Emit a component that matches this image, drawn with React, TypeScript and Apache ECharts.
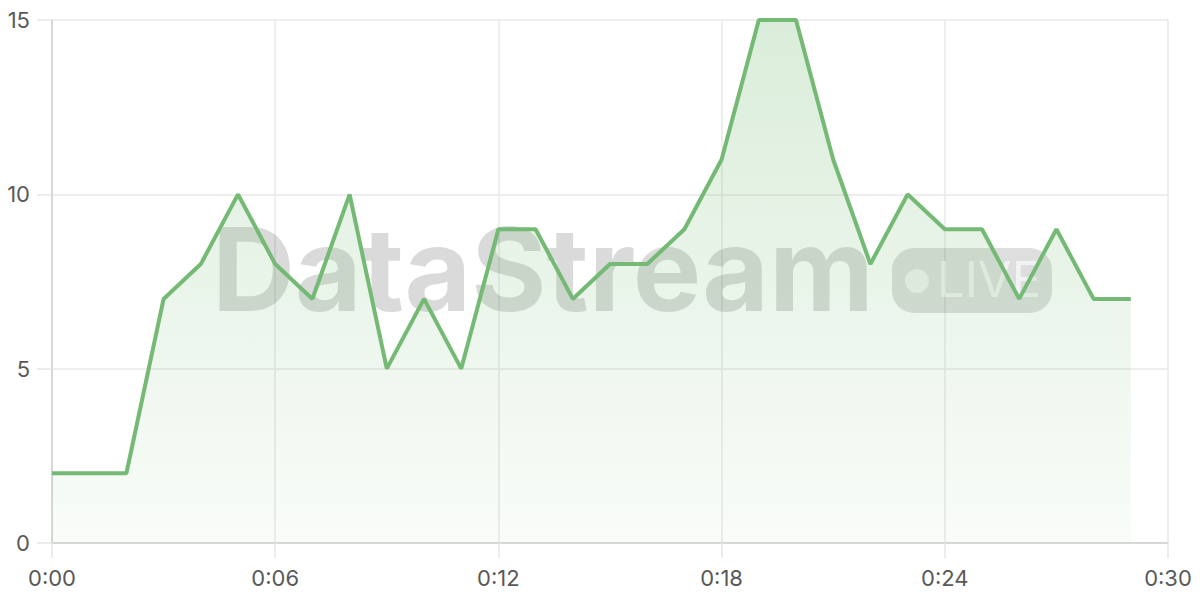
import React, { useEffect, useRef } from "react";
import * as echarts from "echarts";

const values = [2, 2, 2, 7, 8, 10, 8, 7, 10, 5, 7, 5, 9, 9, 7, 8, 8, 9, 11, 15, 15, 11, 8, 10, 9, 9, 7, 9, 7, 7];
const xMin = 0;
const xMax = 30;
const xStep = 6;
const yMin = 0;
const yMax = 15;
const yStep = 5;

const fmtX = (v: number) => "0:" + String(Math.round(v)).padStart(2, "0");

export default function App() {
  const ref = useRef<HTMLDivElement>(null);
  useEffect(() => {
    if (!ref.current) return;
    const chart = echarts.init(ref.current, undefined, { renderer: "svg" });
    const font = "Inter, 'Noto Sans', sans-serif";
    chart.setOption({
      animation: false,
      backgroundColor: "#ffffff",
      textStyle: { fontFamily: font },
      grid: { left: 52, right: 32, top: 20, bottom: 57, containLabel: false },
      xAxis: {
        type: "value",
        min: xMin,
        max: xMax,
        interval: xStep,
        axisLine: { show: true, lineStyle: { color: "#cfcfcf", width: 1.5 } },
        axisTick: { show: true, length: 15, lineStyle: { color: "#e6e6e6", width: 1.5 } },
        splitLine: { show: true, lineStyle: { color: "#e8e8e8", width: 1.5 } },
        axisLabel: { color: "#595959", fontSize: 22, margin: 24, formatter: fmtX, fontFamily: font },
      },
      yAxis: {
        type: "value",
        min: yMin,
        max: yMax,
        interval: yStep,
        axisLine: { show: true, lineStyle: { color: "#cfcfcf", width: 1.5 } },
        axisTick: { show: true, length: 15, lineStyle: { color: "#e6e6e6", width: 1.5 } },
        splitLine: { show: true, lineStyle: { color: "#e8e8e8", width: 1.5 } },
        axisLabel: { color: "#595959", fontSize: 22, margin: 22, fontFamily: font },
      },
      graphic: {
        elements: [
          {
            type: "text",
            z: 1,
            silent: true,
            style: {
              x: 212,
              y: 212,
              text: "DataStream",
              font: "bold 115px " + font,
              fill: "rgba(0,0,0,0.145)",
              verticalAlign: "top",
              align: "left",
            },
          },
          {
            type: "rect",
            z: 1,
            silent: true,
            shape: { x: 892, y: 248, width: 160, height: 65, r: 22 },
            style: { fill: "rgba(0,0,0,0.13)" },
          },
          {
            type: "circle",
            z: 1,
            silent: true,
            shape: { cx: 917, cy: 281, r: 12 },
            style: { fill: "rgba(255,255,255,0.6)" },
          },
          {
            type: "text",
            z: 1,
            silent: true,
            style: {
              x: 937,
              y: 255,
              text: "LIVE",
              font: "400 49px " + font,
              fill: "rgba(255,255,255,0.6)",
              verticalAlign: "top",
              align: "left",
            },
          },
        ],
      },
      series: [
        {
          type: "line",
          z: 3,
          data: values.map((v, i) => [i, v]),
          showSymbol: false,
          symbol: "none",
          clip: true,
          lineStyle: { color: "#74b974", width: 4 },
          areaStyle: {
            color: new echarts.graphic.LinearGradient(0, 0, 0, 1, [
              { offset: 0, color: "rgba(116,187,116,0.38)" },
              { offset: 1, color: "rgba(116,187,116,0.06)" },
            ]),
          },
        },
      ],
    });
    return () => chart.dispose();
  }, []);
  return (
    <div
      ref={ref}
      style={{ position: "fixed", left: 0, top: 0, width: 1200, height: 600 }}
    />
  );
}
